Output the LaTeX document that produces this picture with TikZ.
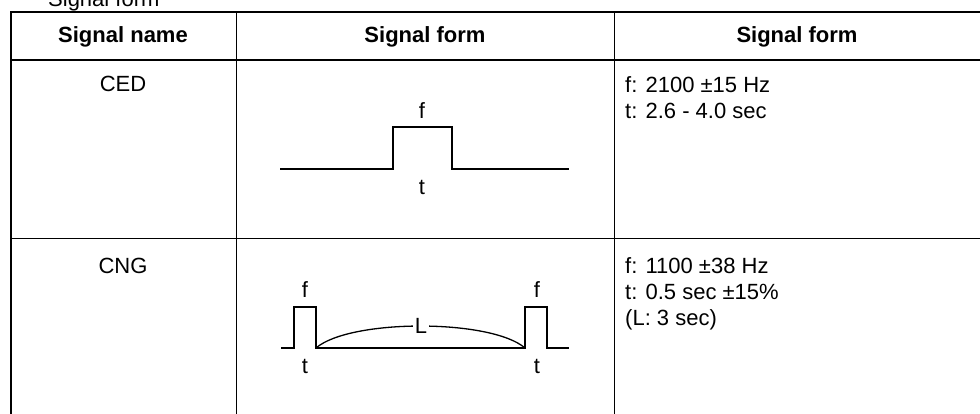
\documentclass[tikz,border=0pt]{standalone}
\usepackage{fontspec}
\setmainfont{Liberation Sans}
\begin{document}
\begin{tikzpicture}[x=1pt,y=-1pt,
  txt/.style={inner sep=0pt, font=\fontsize{22}{26}\selectfont},
  hdr/.style={inner sep=0pt, font=\fontsize{22}{26}\selectfont\bfseries},
  outer/.style={line width=2pt},
  inner/.style={line width=1pt},
  wave/.style={line width=1.3pt, line join=miter},
  gap/.style={txt, fill=white, inner xsep=2pt}]
\useasboundingbox (0,0) rectangle (980,413);
\clip (0,0) rectangle (980,413);
% title (cut off at the top)
\node[txt, anchor=base west] (title) at (48,6) {Signal form};
% table rules
\draw[outer] (11,420) -- (11,12) -- (990,12);
\draw[outer] (11,60) -- (990,60);
\draw[inner] (236,12) -- (236,420);
\draw[inner] (614,12) -- (614,420);
\draw[inner] (11,238) -- (990,238);
% header
\node[hdr, anchor=base] (h1) at (123,42) {Signal name};
\node[hdr, anchor=base] (h2) at (425,42) {Signal form};
\node[hdr, anchor=base] (h3) at (797,42) {Signal form};
% row 1
\node[txt, anchor=base] (ced) at (123,91) {CED};
\node[txt, anchor=base west] (c1) at (625,92) {f: 2100 ±15 Hz};
\node[txt, anchor=base west] (c2) at (625,118) {t: 2.6 - 4.0 sec};
\draw[wave] (280,169) -- (393,169) -- (393,127) -- (452,127) -- (452,169) -- (569,169);
\node[txt, anchor=base] (cf) at (422,118) {f};
\node[txt, anchor=base] (ct) at (422,194) {t};
% row 2
\node[txt, anchor=base] (cng) at (123,273) {CNG};
\node[txt, anchor=base west] (n1) at (625,273) {f: 1100 ±38 Hz};
\node[txt, anchor=base west] (n2) at (625,299) {t: 0.5 sec ±15\%};
\node[txt, anchor=base west] (n3) at (625,325) {(L: 3 sec)};
\draw[wave] (281,348) -- (294,348) -- (294,307) -- (316,307) -- (316,348) -- (525,348)
  -- (525,307) -- (547,307) -- (547,348) -- (569,348);
\draw[wave] (316,348) .. controls (350,318.7) and (491,318.7) .. (525,348);
\node[gap, anchor=base] (L) at (421,333) {L};
\node[txt, anchor=base] (f1) at (305,297) {f};
\node[txt, anchor=base] (t1) at (305,373) {t};
\node[txt, anchor=base] (f2) at (537,297) {f};
\node[txt, anchor=base] (t2) at (537,373) {t};
\end{tikzpicture}
\end{document}
